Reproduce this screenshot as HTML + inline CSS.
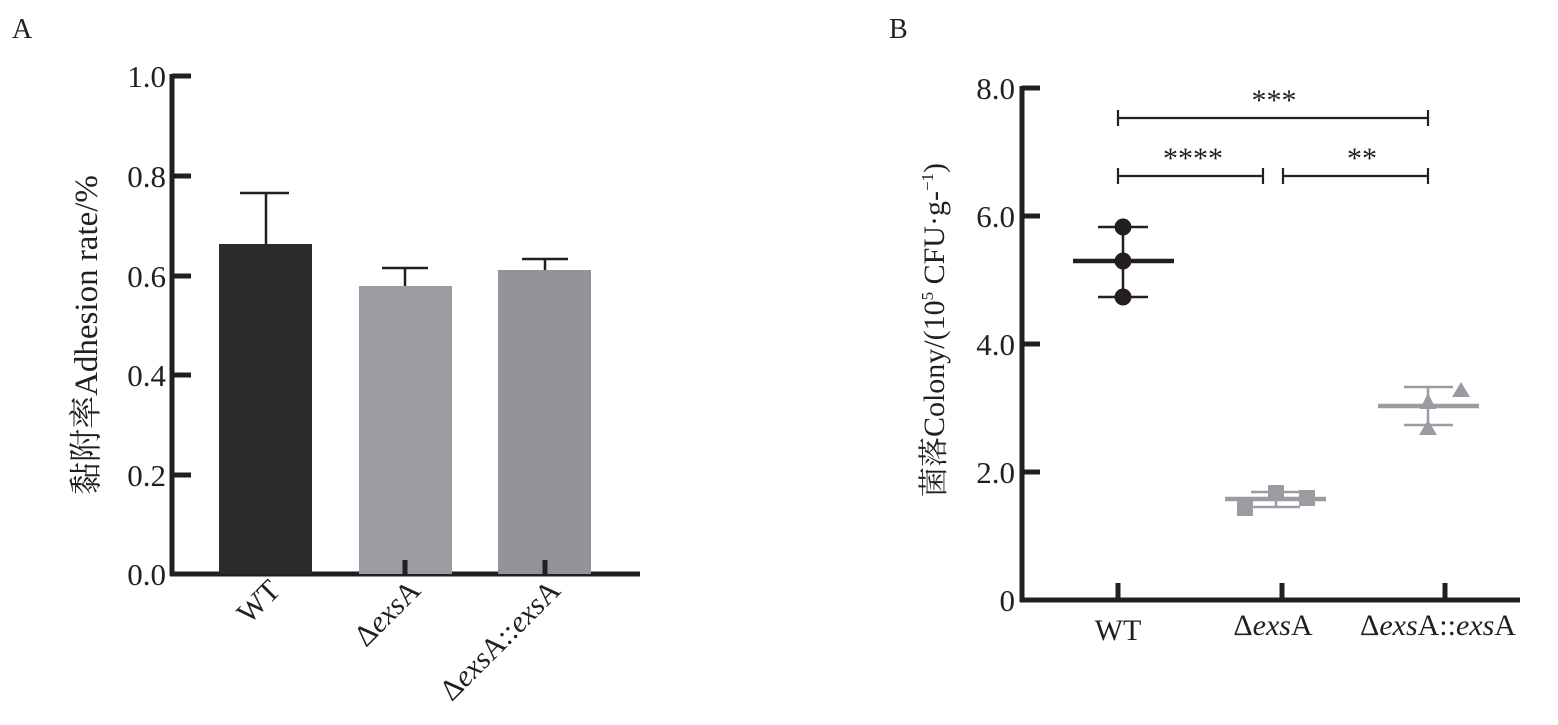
<!DOCTYPE html>
<html><head><meta charset="utf-8"><style>
html,body{margin:0;padding:0;background:#fff;}
svg{display:block;}
text{font-family:"Liberation Serif","Noto Serif CJK SC",serif;fill:#231f20;}
</style></head><body>
<svg width="1558" height="725" viewBox="0 0 1558 725" xmlns="http://www.w3.org/2000/svg">
<text x="12" y="38" font-size="28">A</text>
<text x="889" y="38" font-size="28">B</text>

<!-- Panel A -->
<g stroke="#231f20" stroke-width="5" fill="none">
<line x1="172" y1="74" x2="172" y2="576"/>
<line x1="170" y1="574" x2="640" y2="574"/>
<line x1="172" y1="76" x2="191" y2="76"/>
<line x1="172" y1="176" x2="191" y2="176"/>
<line x1="172" y1="276" x2="191" y2="276"/>
<line x1="172" y1="375" x2="191" y2="375"/>
<line x1="172" y1="475" x2="191" y2="475"/>
</g>
<g font-size="31" text-anchor="end">
<text x="166" y="87">1.0</text>
<text x="166" y="187">0.8</text>
<text x="166" y="287">0.6</text>
<text x="166" y="386">0.4</text>
<text x="166" y="486">0.2</text>
<text x="166" y="585">0.0</text>
</g>
<text transform="translate(97,335) rotate(-90)" font-size="33" text-anchor="middle">黏附率Adhesion rate/%</text>
<rect x="219" y="244" width="93" height="330" fill="#2b2a2c"/>
<rect x="359" y="286" width="93" height="288" fill="#9a9ca2"/>
<rect x="498" y="270" width="93" height="304" fill="#929497"/>
<g stroke="#231f20" stroke-width="2.5">
<line x1="266" y1="244" x2="266" y2="193"/><line x1="240" y1="193" x2="289" y2="193"/>
<line x1="405" y1="286" x2="405" y2="268"/><line x1="382" y1="268" x2="428" y2="268"/>
<line x1="545" y1="270" x2="545" y2="259"/><line x1="522" y1="259" x2="568" y2="259"/>
</g>
<g stroke="#231f20" stroke-width="5">
<line x1="405" y1="560" x2="405" y2="574"/>
<line x1="545" y1="560" x2="545" y2="574"/>
</g>
<g font-size="30" text-anchor="end">
<text transform="translate(282,592) rotate(-45)">WT</text>
<text transform="translate(422,592) rotate(-45)">Δ<tspan font-style="italic">exs</tspan>A</text>
<text transform="translate(562,592) rotate(-45)">Δ<tspan font-style="italic">exs</tspan>A::<tspan font-style="italic">exs</tspan>A</text>
</g>

<!-- Panel B -->
<g stroke="#231f20" stroke-width="5" fill="none">
<line x1="1022" y1="86" x2="1022" y2="602"/>
<line x1="1020" y1="600" x2="1520" y2="600"/>
<line x1="1022" y1="88" x2="1040" y2="88"/>
<line x1="1022" y1="216" x2="1040" y2="216"/>
<line x1="1022" y1="344" x2="1040" y2="344"/>
<line x1="1022" y1="472" x2="1040" y2="472"/>
<line x1="1118" y1="583" x2="1118" y2="600"/>
<line x1="1282" y1="583" x2="1282" y2="600"/>
<line x1="1445" y1="583" x2="1445" y2="600"/>
</g>
<g font-size="31" text-anchor="end">
<text x="1015" y="99">8.0</text>
<text x="1015" y="227">6.0</text>
<text x="1015" y="355">4.0</text>
<text x="1015" y="483">2.0</text>
<text x="1015" y="611">0</text>
</g>
<text transform="translate(944,330) rotate(-90)" font-size="30" text-anchor="middle">菌落Colony/(10<tspan font-size="17" dy="-11">5</tspan><tspan dy="11"> CFU·g-</tspan><tspan font-size="17" dy="-11">−1</tspan><tspan dy="11">)</tspan></text>
<g font-size="30" text-anchor="middle">
<text x="1118" y="640">WT</text>
<text x="1273" y="635">Δ<tspan font-style="italic">exs</tspan>A</text>
<text x="1438" y="635">Δ<tspan font-style="italic">exs</tspan>A::<tspan font-style="italic">exs</tspan>A</text>
</g>
<!-- significance -->
<g stroke="#231f20" stroke-width="2.2">
<line x1="1118" y1="118" x2="1428" y2="118"/><line x1="1118" y1="110" x2="1118" y2="126"/><line x1="1428" y1="110" x2="1428" y2="126"/>
<line x1="1118" y1="176" x2="1263" y2="176"/><line x1="1118" y1="168" x2="1118" y2="184"/><line x1="1263" y1="168" x2="1263" y2="184"/>
<line x1="1283" y1="176" x2="1428" y2="176"/><line x1="1283" y1="168" x2="1283" y2="184"/><line x1="1428" y1="168" x2="1428" y2="184"/>
</g>
<g font-size="30" text-anchor="middle">
<text x="1274" y="110">***</text>
<text x="1193" y="168">****</text>
<text x="1362" y="168">**</text>
</g>
<!-- WT -->
<g stroke="#231f20">
<line x1="1073" y1="261" x2="1174" y2="261" stroke-width="4.5"/>
<line x1="1098" y1="227" x2="1148" y2="227" stroke-width="2.5"/>
<line x1="1098" y1="297" x2="1148" y2="297" stroke-width="2.5"/>
<line x1="1123" y1="227" x2="1123" y2="297" stroke-width="2.5"/>
</g>
<g fill="#231f20"><circle cx="1123" cy="227" r="8.5"/><circle cx="1123" cy="261" r="8.5"/><circle cx="1123" cy="297" r="8.5"/></g>
<!-- dexsA -->
<g stroke="#9a9ca1">
<line x1="1225" y1="499" x2="1326" y2="499" stroke-width="4.5"/>
<line x1="1251" y1="492" x2="1300" y2="492" stroke-width="2.5"/>
<line x1="1251" y1="507" x2="1300" y2="507" stroke-width="2.5"/>
<line x1="1276" y1="492" x2="1276" y2="507" stroke-width="2.5"/>
</g>
<g fill="#9a9ca1"><rect x="1237" y="499" width="16" height="17"/><rect x="1268" y="485" width="16" height="13"/><rect x="1299" y="490" width="16" height="16"/></g>
<!-- comp -->
<g stroke="#9a9ca1">
<line x1="1378" y1="406" x2="1479" y2="406" stroke-width="4.5"/>
<line x1="1404" y1="387" x2="1453" y2="387" stroke-width="2.5"/>
<line x1="1404" y1="425" x2="1453" y2="425" stroke-width="2.5"/>
<line x1="1428" y1="387" x2="1428" y2="425" stroke-width="2.5"/>
</g>
<g fill="#9a9ca1">
<polygon points="1428,393 1420,409 1436,409"/>
<polygon points="1461,382 1452,397 1470,397"/>
<polygon points="1428,420 1419,435 1437,435"/>
</g>
</svg>
</body></html>
